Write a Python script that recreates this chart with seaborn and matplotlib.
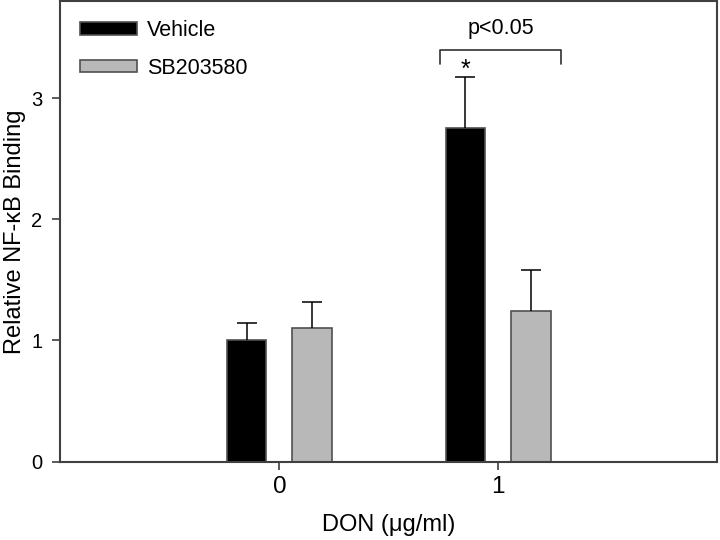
import matplotlib
matplotlib.use("Agg")
import matplotlib.pyplot as plt
import seaborn as sns
import pandas as pd
import numpy as np

# Data
doses = ["0", "1"]
treatments = ["Vehicle", "SB203580"]
vehicle_mean = [1.00, 2.75]
vehicle_err = [0.145, 0.425]
sb_mean = [1.10, 1.245]
sb_err = [0.22, 0.335]

df = pd.DataFrame({
    "dose": doses * 2,
    "treatment": [treatments[0]] * 2 + [treatments[1]] * 2,
    "value": vehicle_mean + sb_mean,
})
errs = {treatments[0]: vehicle_err, treatments[1]: sb_err}

sns.set_theme(style="white", rc={"text.color": "black", "axes.labelcolor": "black",
                                 "xtick.color": "black", "ytick.color": "black"})
plt.rcParams["font.family"] = ["Liberation Sans", "DejaVu Sans"]

fig = plt.figure(figsize=(7.2, 5.4), dpi=100)
ax = fig.add_axes([0.084, 0.145, 0.912, 0.853])

palette = {treatments[0]: "#000000", treatments[1]: "#b8b8b8"}
sns.barplot(data=df, x="dose", y="value", hue="treatment", order=doses,
            hue_order=treatments, palette=palette, width=0.6, gap=0.4,
            errorbar=None, ax=ax, edgecolor="#505050", linewidth=1.2,
            saturation=1)

# error bars (upper only)
for cont, t in zip(ax.containers, treatments):
    xs = [p.get_x() + p.get_width() / 2 for p in cont.patches]
    tops = [p.get_height() for p in cont.patches]
    ups = [m + e for m, e in zip(tops, errs[t])]
    ax.vlines(xs, tops, ups, color="black", linewidth=1.1, zorder=3)
    ax.plot(xs, ups, linestyle="none", marker="_", markersize=14,
            markeredgewidth=1.1, color="black", zorder=3)

ax.set_xlim(-1, 2)
ax.set_ylim(0, 3.8)
ax.set_yticks([0, 1, 2, 3])
ax.set_xlabel("DON (\u03bcg/ml)", fontsize=17, labelpad=12)
ax.set_ylabel("Relative NF-\u03baB Binding", fontsize=17)
ax.yaxis.set_label_coords(-0.0525, 0.5)
ax.tick_params(axis="both", direction="out", length=6,
               width=1.2, left=True, bottom=True)
ax.tick_params(axis="x", labelsize=17.5, pad=4)
ax.tick_params(axis="y", labelsize=14.5, pad=7)
ax.tick_params(axis="both", color="#404040")
for s in ax.spines.values():
    s.set_color("#404040")
    s.set_linewidth(1.5)
    s.set_visible(True)

# significance bracket
v1x = ax.containers[0].patches[1].get_x() + ax.containers[0].patches[1].get_width() / 2
ax.plot([-0.265 + 1, -0.265 + 1, 0.287 + 1, 0.287 + 1],
        [3.285, 3.40, 3.40, 3.285], color="#303030", linewidth=1.2)
ax.text(1.01, 3.53, "p<0.05", ha="center", va="baseline", fontsize=15.5)
ax.text(v1x, 3.13, "*", ha="center", va="bottom", fontsize=18)

leg = ax.legend(loc="upper left", frameon=False, fontsize=15.5,
                handlelength=2.65, handleheight=0.55, labelspacing=0.75,
                handletextpad=0.45, borderaxespad=0.5, title=None)

fig.savefig("out.png", dpi=100)
